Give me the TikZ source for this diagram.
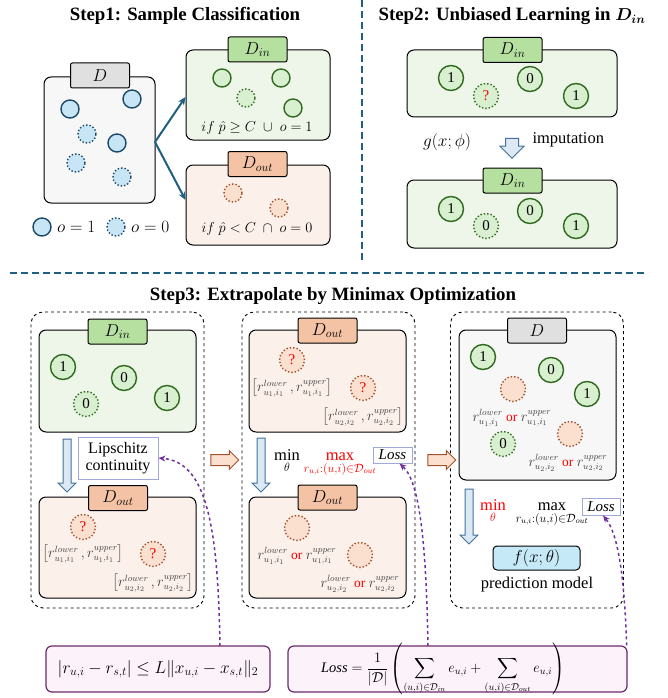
\documentclass[tikz,border=0pt]{standalone}
\usepackage{amsmath}
\usepackage{fontspec}
\setmainfont{Liberation Serif}
\usetikzlibrary{shapes.arrows,arrows.meta}

\definecolor{sepcol}{HTML}{1F5F80}
\definecolor{dfillcol}{HTML}{F7F7F7}
\definecolor{dtabcol}{HTML}{E0E0E0}
\definecolor{dinfillcol}{HTML}{EEF6E9}
\definecolor{dintabcol}{HTML}{B5E0A0}
\definecolor{doutfillcol}{HTML}{FCF0EA}
\definecolor{douttabcol}{HTML}{F4C3A5}
\definecolor{blinecol}{HTML}{1B4965}
\definecolor{bfillcol}{HTML}{C7E5F5}
\definecolor{glinecol}{HTML}{2F6A1F}
\definecolor{gfillcol}{HTML}{D8EFD0}
\definecolor{olinecol}{HTML}{A0522D}
\definecolor{ofillcol}{HTML}{FBE0D0}
\definecolor{arrowlinecol}{HTML}{41719C}
\definecolor{arrowfillcol}{HTML}{DDE8F5}
\definecolor{lossboxcol}{HTML}{9FA8DA}
\definecolor{fboxlinecol}{HTML}{6B2A6B}
\definecolor{fboxfillcol}{HTML}{FBF2FA}
\definecolor{purplecol}{HTML}{7030A0}
\definecolor{modelcol}{HTML}{C5E9F7}
\definecolor{rtextcol}{HTML}{404040}

\newcommand{\rpair}[1]{\left[r^{lower}_{u_#1,i_#1}\,,r^{upper}_{u_#1,i_#1}\right]}
\newcommand{\rchoice}[1]{r^{lower}_{u_#1,i_#1}\ \textcolor{red}{\text{or}}\ r^{upper}_{u_#1,i_#1}}

\tikzset{
    title/.style={font=\fontsize{18.8}{22}\selectfont\bfseries},
    sep/.style={draw=sepcol, line width=1.8pt, dash pattern=on 7pt off 4pt},
    box/.style={draw, rounded corners=7, line width=1pt, inner sep=0},
    dbox/.style={box, fill=dfillcol},
    dinbox/.style={box, fill=dinfillcol},
    doutbox/.style={box, fill=doutfillcol},
    panel/.style={draw, dashed, rounded corners=12, line width=0.9pt, minimum width=173, minimum height=296},
    tab/.style={draw, rounded corners=2, line width=1pt, minimum width=59, minimum height=25, inner sep=0, font=\fontsize{17}{19}\selectfont},
    dtab/.style={tab, fill=dtabcol},
    dintab/.style={tab, fill=dintabcol},
    douttab/.style={tab, fill=douttabcol},
    ball/.style={circle, line width=1.4pt, minimum size=25, inner sep=0, font=\fontsize{15}{17}\selectfont},
    bball/.style={ball, minimum size=18, draw=blinecol, fill=bfillcol},
    bdot/.style={bball, dotted},
    gball/.style={ball, draw=glinecol, fill=gfillcol},
    gdot/.style={gball, dotted},
    odot/.style={ball, draw=olinecol, fill=ofillcol, dotted},
    splitarrow/.style={draw=sepcol, line width=2pt, -{Stealth[length=8pt,width=7pt]}},
    blockdown/.style={single arrow, draw=arrowlinecol, fill=arrowfillcol, line width=1pt, shape border rotate=270, inner sep=3.5pt, single arrow head extend=5pt, minimum height=#1},
    blockright/.style={single arrow, draw=olinecol, fill=ofillcol, line width=1pt, inner sep=5pt, single arrow head extend=4pt, minimum height=28},
    lossbox/.style={draw=lossboxcol, fill=white, line width=1pt, inner sep=1pt, font=\fontsize{15}{17}\selectfont},
    fbox/.style={draw=fboxlinecol, fill=fboxfillcol, rounded corners=6, line width=1.2pt, minimum height=46},
    rlabel/.style={text=rtextcol, font=\fontsize{13.5}{15}\selectfont},
    minmax/.style={anchor=base, font=\fontsize{16.5}{18}\selectfont},
    linkarrow/.style={draw=purplecol, line width=1.5pt, dashed, -{Stealth[length=7pt,width=6pt]}},
}

\begin{document}
\begin{tikzpicture}[x=1pt, y=-1pt, font=\fontsize{16.5}{19}\selectfont]
    \useasboundingbox (0,0) rectangle (668,698);

    % separators
    \draw[sep] (362,0) -- (362,262);
    \draw[sep] (10,273) -- (645,273);

    % titles
    \node[title] (t1) at (185,16) {Step1: Sample Classification};
    \node[title] (t2) at (512,16) {Step2: Unbiased Learning in $\boldsymbol{D_{in}}$};
    \node[title] (t3) at (333,296) {Step3: Extrapolate by Minimax Optimization};

    %% Step1
    % D
    \node[dbox, minimum width=111, minimum height=126] (s1d) at (99.5,140) {};
    \node[dtab] (s1dtab) at (100,75.5) {$D$};
    \foreach \n/\p in {a/{70,109}, b/{132,99}, c/{117,143}}
        \node[bball] (s1d\n) at (\p) {};
    \foreach \n/\p in {d/{87,134}, e/{76,163}, f/{122,177}}
        \node[bdot] (s1d\n) at (\p) {};

    % legend
    \node[bball] (leg1) at (42,227) {};
    \node[anchor=west] (leg1t) at ([xshift=2pt]leg1.east) {$o=1$};
    \node[bdot] (leg0) at (116,227) {};
    \node[anchor=west] (leg0t) at ([xshift=2pt]leg0.east) {$o=0$};

    % D_in
    \node[dinbox, minimum width=144, minimum height=90] (s1in) at (258,95) {};
    \node[dintab] (s1intab) at (257.5,49.5) {$D_{in}$};
    \foreach \n/\p in {a/{222,78}, b/{281,78}, c/{293,108}}
        \node[gball, minimum size=18] (s1in\n) at (\p) {};
    \node[gdot, minimum size=18] (s1ind) at (246,98) {};
    \node[font=\fontsize{15.5}{18}\selectfont] (s1incond) at (257,128) {$if\ \hat{p}\geq C\ \cup\ o=1$};

    % D_out
    \node[doutbox, minimum width=144, minimum height=80] (s1out) at (258,205) {};
    \node[douttab] (s1outtab) at (257.5,164) {$D_{out}$};
    \node[odot, minimum size=18] (s1outa) at (233,193) {};
    \node[odot, minimum size=18] (s1outb) at (279,208) {};
    \node[font=\fontsize{15.5}{18}\selectfont] (s1outcond) at (257,229) {$if\ \hat{p}<C\ \cap\ o=0$};

    % split
    \coordinate (s1fork) at (155,142);
    \draw[splitarrow] (s1fork) -- ([yshift=-2pt]s1in.west);
    \draw[splitarrow] (s1fork) -- ([yshift=5pt]s1out.west);

    %% Step2
    \node[dinbox, minimum width=210, minimum height=67] (s2top) at (512,83.5) {};
    \node[dintab] (s2toptab) at (512.5,50) {$D_{in}$};
    \node[gball] (s2topa) at (451,78) {1};
    \node[gball] (s2topb) at (530,79) {0};
    \node[gball] (s2topc) at (576,96) {1};
    \node[gdot] (s2topd) at (486,96) {\textcolor{red}{?}};

    \node[font=\fontsize{17.5}{20}\selectfont] (s2g) at (447,142) {$g(x;\phi)$};
    \node[blockdown=20, inner sep=6pt, single arrow head extend=5.5pt] (s2arrow) at (512,145) {};
    \node[anchor=west] (s2imp) at (529,140) {imputation};

    \node[dinbox, minimum width=210, minimum height=68] (s2bot) at (512,214) {};
    \node[dintab] (s2bottab) at (512.5,180.5) {$D_{in}$};
    \node[gball] (s2bota) at (451,209) {1};
    \node[gball] (s2botb) at (530,211) {0};
    \node[gball] (s2botc) at (576,226) {1};
    \node[gdot] (s2botd) at (486,226) {0};

    %% Step3
    % panel 1
    \node[panel] (p1) at (117.5,460) {};
    \node[dinbox, minimum width=157, minimum height=102] (p1in) at (117.5,381) {};
    \node[dintab] (p1intab) at (117.5,331.5) {$D_{in}$};
    \node[gball] (p1ina) at (63,367) {1};
    \node[gball] (p1inb) at (124,378) {0};
    \node[gball] (p1inc) at (167,398) {1};
    \node[gdot] (p1ind) at (86,404) {0};
    \node[blockdown=53] (p1arrow) at (67,463.5) {};
    \node[lossbox, minimum width=80, minimum height=42, align=center, font=\fontsize{16}{17}\selectfont] (p1lip) at (118,458) {Lipschitz\\continuity};
    \node[doutbox, minimum width=157, minimum height=101] (p1out) at (117.5,547.5) {};
    \node[douttab] (p1outtab) at (118,498) {$D_{out}$};
    \node[odot] (p1outa) at (83,527) {\textcolor{red}{?}};
    \node[odot] (p1outb) at (153,554) {\textcolor{red}{?}};
    \node[rlabel] (p1outal) at (83,554) {$\rpair{1}$};
    \node[rlabel] (p1outbl) at (153,583) {$\rpair{2}$};

    % panel 2
    \node[panel] (p2) at (328.5,460) {};
    \node[doutbox, minimum width=157, minimum height=102] (p2top) at (327.5,381) {};
    \node[douttab] (p2toptab) at (327.5,330.5) {$D_{out}$};
    \node[odot] (p2topa) at (292,360) {\textcolor{red}{?}};
    \node[odot] (p2topb) at (363,388) {\textcolor{red}{?}};
    \node[rlabel] (p2topal) at (292,388) {$\rpair{1}$};
    \node[rlabel] (p2topbl) at (363,417) {$\rpair{2}$};
    \node[blockdown=54] (p2arrow) at (261,463) {};
    \node[minmax] (p2min) at (287,460) {$\displaystyle\min_{\theta}$};
    \node[minmax, text=red] (p2max) at (340,460) {$\displaystyle\max_{r_{u,i}:(u,i)\in\mathcal{D}_{out}}$};
    \node[lossbox, minimum width=39, minimum height=16] (p2loss) at (392.5,455) {$\mathit{Loss}$};
    \node[doutbox, minimum width=157, minimum height=101] (p2bot) at (327.5,547.5) {};
    \node[douttab] (p2bottab) at (327.5,497.5) {$D_{out}$};
    \node[odot] (p2bota) at (297,528) {};
    \node[odot] (p2botb) at (360,555) {};
    \node[rlabel] (p2botal) at (297,556) {$\rchoice{1}$};
    \node[rlabel] (p2botbl) at (360,584) {$\rchoice{2}$};

    % panel 3
    \node[panel] (p3) at (537,460) {};
    \node[dbox, minimum width=157, minimum height=150] (p3d) at (537.5,405) {};
    \node[dtab] (p3dtab) at (537,330.5) {$D$};
    \node[gball] (p3da) at (483,357) {1};
    \node[gball] (p3db) at (551,370) {0};
    \node[gball] (p3dc) at (587,394) {1};
    \node[gdot] (p3dd) at (503,444) {0};
    \node[odot] (p3de) at (513,389) {};
    \node[odot] (p3df) at (570,434) {};
    \node[rlabel] (p3del) at (512,418) {$\rchoice{1}$};
    \node[rlabel] (p3dfl) at (568,463) {$\rchoice{2}$};
    \node[blockdown=55] (p3arrow) at (469,514.5) {};
    \node[minmax, text=red] (p3min) at (493,510) {$\displaystyle\min_{\theta}$};
    \node[minmax] (p3max) at (552,510) {$\displaystyle\max_{r_{u,i}:(u,i)\in\mathcal{D}_{out}}$};
    \node[lossbox, minimum width=38, minimum height=17] (p3loss) at (601,506.5) {$\mathit{Loss}$};
    \node[draw, fill=modelcol, rounded corners=4, line width=1pt, minimum width=87, minimum height=24, font=\fontsize{17}{19}\selectfont] (p3f) at (536.5,558) {$f(x;\theta)$};
    \node (p3ftext) at (537,585) {prediction model};

    % between panels
    \node[blockright] (a12) at (222,460) {};
    \node[blockright] (a23) at (439,460) {};

    % formulas
    \node[fbox, minimum width=224, font=\fontsize{17.3}{20}\selectfont] (f1) at (158,669) {$|r_{u,i}-r_{s,t}|\leq L\|x_{u,i}-x_{s,t}\|_2$};
    \node[fbox, minimum width=339] (f2) at (457.5,669) {};
    \node[font=\fontsize{14.5}{17}\selectfont] (f2text) at (443,669) {$\mathit{Loss}=\dfrac{1}{|\mathcal{D}|}\left(\displaystyle\sum_{(u,i)\in\mathcal{D}_{in}}e_{u,i}+\sum_{(u,i)\in\mathcal{D}_{out}}e_{u,i}\right)$};

    % links
    \coordinate (f1link) at (220,646);
    \coordinate (f2link) at (428,646);
    \draw[linkarrow] (f1link) .. controls (218,520) and (205,462) .. (p1lip.east);
    \draw[linkarrow] (f2link) .. controls (426,530) and (418,480) .. ([xshift=7pt]p2loss.south);
    \draw[linkarrow] ([xshift=-1pt]f2.north east) .. controls (624,560) and (615,530) .. ([xshift=2pt]p3loss.south);

\end{tikzpicture}
\end{document}
